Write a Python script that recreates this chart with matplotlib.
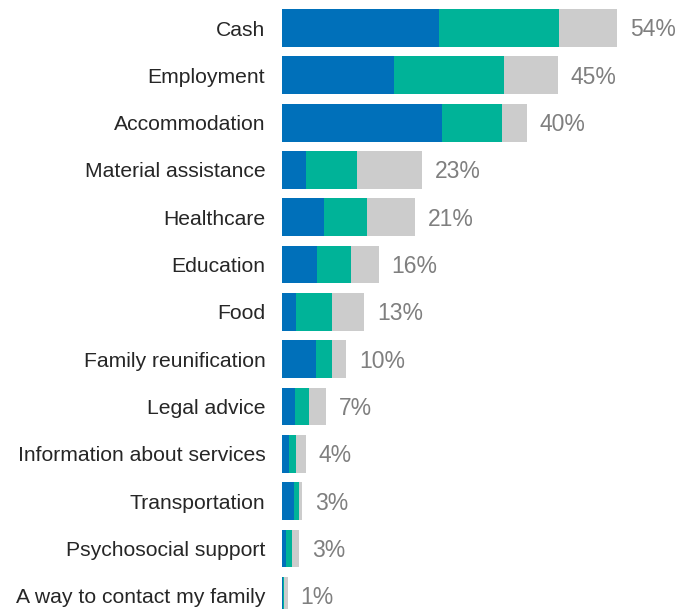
# Horizontal stacked bars - support needs
import numpy as np
import matplotlib.pyplot as plt

plt.rcParams['font.family'] = ['Liberation Sans', 'DejaVu Sans']

# Data (percent)
categories = ['Cash', 'Employment', 'Accommodation', 'Material assistance',
              'Healthcare', 'Education', 'Food', 'Family reunification',
              'Legal advice', 'Information about services', 'Transportation',
              'Psychosocial support', 'A way to contact my family']
first = [25.3, 18.1, 25.8, 3.9, 6.8, 5.6, 2.3, 5.5, 2.1, 1.1, 1.9, 0.6, 0.2]
second = [19.4, 17.7, 9.7, 8.2, 6.9, 5.5, 5.8, 2.6, 2.3, 1.1, 0.8, 1.0, 0.2]
third = [9.4, 8.7, 4.0, 10.5, 7.7, 4.5, 5.2, 2.3, 2.7, 1.6, 0.6, 1.1, 0.5]
totals = [54, 45, 40, 23, 21, 16, 13, 10, 7, 4, 3, 3, 1]

fig = plt.figure(figsize=(6.91, 6.09), dpi=100)
ax = fig.add_axes([282 / 691, 0, 403 / 691, 1])

y = np.arange(len(categories))
first = np.array(first)
second = np.array(second)
third = np.array(third)

ax.barh(y, first, height=0.8, color='#0070BA')
ax.barh(y, second, left=first, height=0.8, color='#00B398')
ax.barh(y, third, left=first + second, height=0.8, color='#CCCCCC')

ends = first + second + third
for i in range(len(categories)):
    ax.text(ends[i] + 2.1, y[i] + 0.04, str(totals[i]) + '%', va='center', ha='left',
            fontsize=16.5, color='#7F7F7F')

ax.set_yticks(y)
ax.set_yticklabels(categories, fontsize=15.2, color='#262626')
ax.tick_params(axis='y', length=0, pad=12)
ax.set_xticks([])
ax.set_xlim(0, 65)
ax.set_ylim(12.28, -0.592)
for s in ax.spines.values():
    s.set_visible(False)

plt.savefig('out.png', dpi=100)
